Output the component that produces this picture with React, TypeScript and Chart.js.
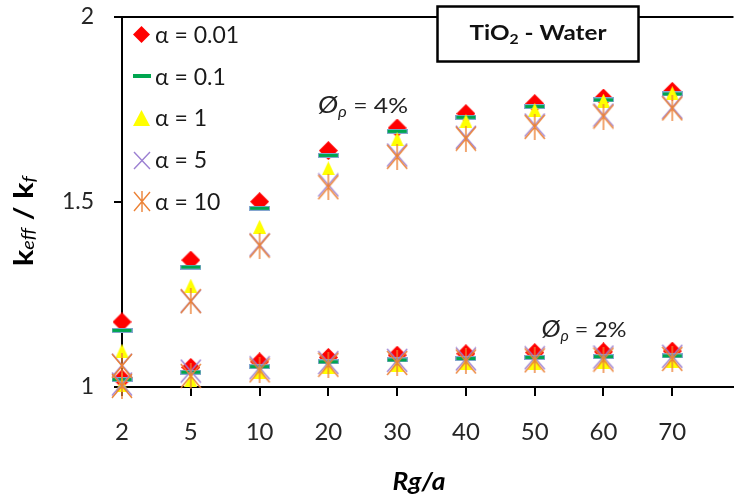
import React, { useEffect, useRef } from 'react';
import { Chart, registerables } from 'chart.js';

Chart.register(...registerables);

// ---------- data ----------
const categories = ['2', '5', '10', '20', '30', '40', '50', '60', '70'];
const yTickValues = [1, 1.5, 2];
const seriesLabels = ['α = 0.01', 'α = 0.1', 'α = 1', 'α = 5', 'α = 10'];
const xTitle = 'Rg/a';
const boxTitleMain = 'TiO';
const boxTitleSub = '2';
const boxTitleRest = ' - Water';
const phi4Text = ' = 4%';
const phi2Text = ' = 2%';

// φp = 4 %
const phi4_a001 = [1.176, 1.343, 1.501, 1.639, 1.700, 1.739, 1.766, 1.781, 1.799];
const phi4_a01 = [1.153, 1.324, 1.483, 1.626, 1.691, 1.729, 1.758, 1.776, 1.792];
const phi4_a1 = [1.098, 1.274, 1.433, 1.591, 1.670, 1.719, 1.749, 1.774, 1.794];
const phi4_a5 = [1.059, 1.232, 1.384, 1.546, 1.627, 1.675, 1.708, 1.735, 1.756];
const phi4_a10 = [1.057, 1.232, 1.382, 1.540, 1.622, 1.671, 1.703, 1.731, 1.753];
// φp = 2 %
const phi2_a001 = [1.022, 1.053, 1.068, 1.080, 1.086, 1.090, 1.093, 1.095, 1.097];
const phi2_a01 = [1.020, 1.040, 1.055, 1.068, 1.073, 1.077, 1.080, 1.082, 1.084];
const phi2_a1 = [1.005, 1.019, 1.040, 1.055, 1.060, 1.064, 1.066, 1.068, 1.070];
const phi2_a5 = [1.008, 1.043, 1.052, 1.066, 1.072, 1.076, 1.079, 1.081, 1.083];
const phi2_a10 = [1.003, 1.030, 1.045, 1.060, 1.065, 1.069, 1.072, 1.074, 1.076];

// ---------- styles ----------
const FONT = "Lato, 'Open Sans', 'DejaVu Sans', sans-serif";
const RED = '#FF0000';
const GREEN = '#00A650';
const YELLOW = '#FFFF00';
const PURPLE = '#9C80D2';
const ORANGE = '#EC8236';

function mk(w: number, h: number, draw: (c: CanvasRenderingContext2D) => void) {
  const c = document.createElement('canvas');
  c.width = w;
  c.height = h;
  const ctx = c.getContext('2d')!;
  draw(ctx);
  return c;
}
const diamondImg = (w: number, h: number) =>
  mk(w, h, (c) => {
    c.fillStyle = RED;
    c.beginPath();
    c.moveTo(w / 2, 0);
    c.lineTo(w, h / 2);
    c.lineTo(w / 2, h);
    c.lineTo(0, h / 2);
    c.closePath();
    c.fill();
  });
const dashImg = (w: number, h: number, border: boolean) =>
  mk(w, h, (c) => {
    c.fillStyle = GREEN;
    c.fillRect(0, 0, w, h);
    if (border) {
      c.strokeStyle = 'rgba(140,165,215,0.95)';
      c.lineWidth = 1;
      c.strokeRect(0.5, 0.5, w - 1, h - 1);
    }
  });
const triangleImg = (w: number, h: number) =>
  mk(w, h, (c) => {
    c.fillStyle = YELLOW;
    c.beginPath();
    c.moveTo(w / 2, 0);
    c.lineTo(w, h);
    c.lineTo(0, h);
    c.closePath();
    c.fill();
  });
const xImg = (w: number, h: number) =>
  mk(w, h, (c) => {
    c.strokeStyle = PURPLE;
    c.lineWidth = 1.4;
    c.beginPath();
    c.moveTo(1, 1);
    c.lineTo(w - 1, h - 1);
    c.moveTo(w - 1, 1);
    c.lineTo(1, h - 1);
    c.stroke();
  });
const asteriskImg = (w: number, h: number) =>
  mk(w, h, (c) => {
    c.strokeStyle = ORANGE;
    c.lineWidth = 1.4;
    c.beginPath();
    c.moveTo(1, 1);
    c.lineTo(w - 1, h - 1);
    c.moveTo(w - 1, 1);
    c.lineTo(1, h - 1);
    c.moveTo(w / 2, 0);
    c.lineTo(w / 2, h);
    c.stroke();
  });

type Run = { text: string; font: string; dy?: number };

function drawRuns(ctx: CanvasRenderingContext2D, runs: Run[], cx: number, baseline: number, fitWidth?: number) {
  let w = 0;
  runs.forEach((r) => {
    ctx.font = r.font;
    w += ctx.measureText(r.text).width;
  });
  const target = fitWidth ?? w;
  ctx.save();
  ctx.translate(cx - target / 2, baseline);
  ctx.scale(target / w, 1);
  let x = 0;
  runs.forEach((r) => {
    ctx.font = r.font;
    ctx.fillText(r.text, x, r.dy ?? 0);
    x += ctx.measureText(r.text).width;
  });
  ctx.restore();
}

export default function App() {
  const ref = useRef<HTMLCanvasElement>(null);

  useEffect(() => {
    document.body.style.margin = '0';
    const canvas = ref.current!;

    const colors = [RED, GREEN, YELLOW, PURPLE, ORANGE];
    const pointImgs = [diamondImg(19, 19), dashImg(21, 5, true), triangleImg(13, 14), xImg(22, 25), asteriskImg(22, 26)];
    const legendImgs = [diamondImg(17, 17), dashImg(18, 4, false), triangleImg(17, 16), xImg(18, 19), asteriskImg(18, 21)];

    const data4 = [phi4_a001, phi4_a01, phi4_a1, phi4_a5, phi4_a10];
    const data2 = [phi2_a001, phi2_a01, phi2_a1, phi2_a5, phi2_a10];

    const datasets: any[] = [];
    seriesLabels.forEach((label, i) => {
      [data4[i], data2[i]].forEach((arr, j) => {
        datasets.push({
          label: j === 0 ? `${label} (Øp = 4%)` : `${label} (Øp = 2%)`,
          data: arr.map((v, k) => ({ x: k, y: v })),
          pointStyle: pointImgs[i],
          pointRadius: 0.5,
          pointHoverRadius: 0.5,
          pointBorderWidth: 0,
          showLine: false,
          clip: false,
          backgroundColor: colors[i],
          borderColor: colors[i],
          order: 5 - i,
        });
      });
    });

    const overlay = {
      id: 'overlay',
      afterDraw(chart: any) {
        const ctx = chart.ctx as CanvasRenderingContext2D;
        ctx.save();
        ctx.textAlign = 'left';
        ctx.textBaseline = 'alphabetic';

        // legend (inside plot, top-left)
        const legX = 141.5;
        const legTextX = 155;
        const legY0 = 34.3;
        const legStep = 41.9;
        seriesLabels.forEach((label, i) => {
          const cy = legY0 + i * legStep;
          const img = legendImgs[i];
          ctx.drawImage(img, Math.round(legX - img.width / 2), Math.round(cy - img.height / 2));
          ctx.fillStyle = '#1a1a1a';
          ctx.font = `23px ${FONT}`;
          ctx.fillText(label, legTextX, cy + 8.3);
        });

        // title box
        ctx.fillStyle = '#ffffff';
        ctx.fillRect(437, 6, 202, 56);
        ctx.strokeStyle = '#000';
        ctx.lineWidth = 2.5;
        ctx.strokeRect(437.5, 6.5, 201, 55);
        ctx.fillStyle = '#111';
        drawRuns(
          ctx,
          [
            { text: boxTitleMain, font: `bold 20px ${FONT}` },
            { text: boxTitleSub, font: `bold 13px ${FONT}`, dy: 4 },
            { text: boxTitleRest, font: `bold 20px ${FONT}` },
          ],
          538,
          39.5,
          137
        );

        // concentration annotations
        ctx.fillStyle = '#222';
        drawRuns(
          ctx,
          [
            { text: 'Ø', font: `italic 24px ${FONT}` },
            { text: 'ρ', font: `italic 15px ${FONT}`, dy: 4 },
            { text: phi4Text, font: `22px ${FONT}` },
          ],
          363,
          112.5,
          90
        );
        drawRuns(
          ctx,
          [
            { text: 'Ø', font: `italic 24px ${FONT}` },
            { text: 'ρ', font: `italic 15px ${FONT}`, dy: 4 },
            { text: phi2Text, font: `22px ${FONT}` },
          ],
          584,
          337,
          85
        );

        // x-axis title
        ctx.fillStyle = '#000';
        drawRuns(ctx, [{ text: xTitle, font: `italic bold 25px ${FONT}` }], 419, 490, 53);

        // y-axis title (rotated)
        ctx.save();
        ctx.translate(33, 221);
        ctx.rotate(-Math.PI / 2);
        drawRuns(
          ctx,
          [
            { text: 'k', font: `bold 26px ${FONT}` },
            { text: 'eff', font: `italic 17px ${FONT}`, dy: 1 },
            { text: ' / ', font: `bold 26px ${FONT}` },
            { text: 'k', font: `bold 26px ${FONT}` },
            { text: 'f', font: `italic 17px ${FONT}`, dy: 2 },
          ],
          0,
          0,
          90
        );
        ctx.restore();

        ctx.restore();
      },
    };

    const chart = new Chart(canvas, {
      type: 'scatter',
      data: { datasets },
      options: {
        animation: false,
        responsive: false,
        devicePixelRatio: 1,
        layout: { padding: { top: 17, right: 0, bottom: 0, left: 0 } },
        plugins: {
          legend: { display: false },
          tooltip: { enabled: false },
        },
        scales: {
          x: {
            type: 'linear',
            min: 0,
            max: 8.89,
            afterBuildTicks: (s: any) => {
              s.ticks = categories.map((_, i) => ({ value: i }));
            },
            afterFit: (s: any) => {
              s.height = 110;
              s.paddingRight = 0;
            },
            ticks: {
              callback: (v: any) => categories[v] ?? '',
              autoSkip: false,
              maxRotation: 0,
              padding: 22,
              color: '#262626',
              font: { family: FONT, size: 24 },
            },
            grid: {
              drawOnChartArea: false,
              drawTicks: true,
              tickLength: 9,
              tickColor: '#000',
              tickWidth: 2,
              color: '#000',
              lineWidth: 2,
            },
            border: { display: true, color: '#000', width: 2 },
          },
          y: {
            type: 'linear',
            min: 1,
            max: 2,
            afterBuildTicks: (s: any) => {
              s.ticks = yTickValues.map((v) => ({ value: v }));
            },
            afterFit: (s: any) => {
              s.width = 122;
              s.paddingTop = 0;
              s.paddingBottom = 0;
            },
            ticks: {
              callback: (v: any) => String(v),
              padding: 20,
              color: '#262626',
              font: { family: FONT, size: 23 },
            },
            grid: {
              color: (c: any) => (c.tick && c.tick.value === 2 ? '#000' : 'rgba(0,0,0,0)'),
              lineWidth: 2,
              drawTicks: true,
              tickLength: 8,
              tickColor: '#000',
              tickWidth: 2,
            },
            border: { display: true, color: '#000', width: 2 },
          },
        },
      } as any,
      plugins: [overlay],
    });

    return () => chart.destroy();
  }, []);

  return <canvas ref={ref} width={734} height={497} style={{ display: 'block' }} />;
}
